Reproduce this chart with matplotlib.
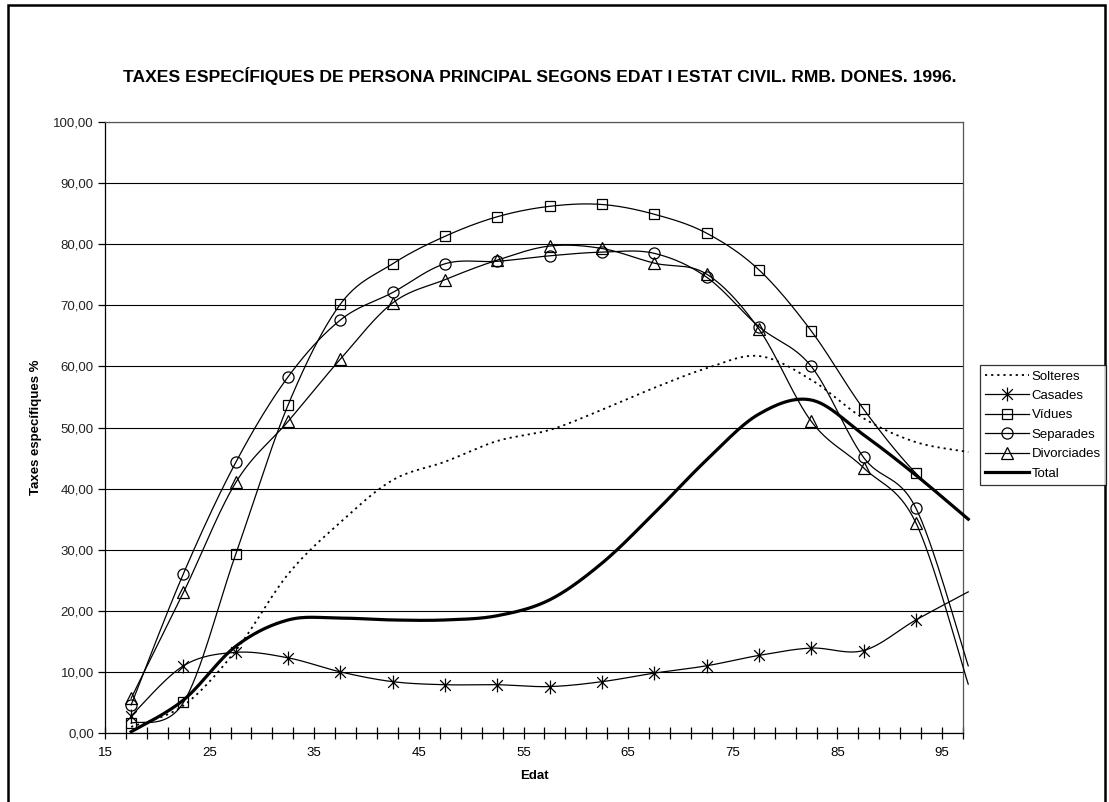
import numpy as np
import matplotlib
matplotlib.use("Agg")
import matplotlib.pyplot as plt
from matplotlib.path import Path
from matplotlib.patches import Rectangle
from matplotlib.lines import Line2D

plt.rcParams['font.family'] = ['Liberation Sans', 'DejaVu Sans']

# edat (centre of each 5-year group); the last point sits just past the axis
edat = [17.5, 22.5, 27.5, 32.5, 37.5, 42.5, 47.5, 52.5, 57.5,
        62.5, 67.5, 72.5, 77.5, 82.5, 87.5, 92.5, 97.5]

solteres = [1.0, 4.5, 13.5, 26.0, 34.5, 41.4, 44.4, 47.8, 49.6,
            52.9, 56.5, 59.7, 61.7, 57.8, 51.5, 47.6, 46.0]
casades = [2.8, 11.0, 13.2, 12.3, 10.0, 8.4, 7.9, 7.9, 7.6,
           8.4, 9.8, 11.0, 12.7, 13.9, 13.5, 18.5, 23.1]
vidues = [1.6, 5.0, 29.3, 53.7, 70.2, 76.8, 81.3, 84.5, 86.2,
          86.5, 84.9, 81.8, 75.8, 65.8, 53.0, 42.5, 35.0]
separades = [4.6, 26.1, 44.3, 58.3, 67.6, 72.1, 76.8, 77.2, 78.1,
             78.7, 78.5, 74.6, 66.5, 60.0, 45.1, 36.8, 11.0]
divorciades = [5.7, 23.0, 41.0, 51.0, 61.2, 70.4, 74.2, 77.4, 79.7,
               79.3, 76.9, 75.1, 66.1, 51.0, 43.4, 34.4, 8.0]
total = [0.2, 5.4, 14.2, 18.5, 18.8, 18.5, 18.5, 19.2, 21.8,
         27.8, 36.0, 44.7, 52.2, 54.5, 48.8, 42.2, 35.0]

x_ticks = [15, 25, 35, 45, 55, 65, 75, 85, 95]
y_ticks = [0, 10, 20, 30, 40, 50, 60, 70, 80, 90, 100]

fig = plt.figure(figsize=(11.09, 8.02), dpi=100)
ax = fig.add_axes([105 / 1109, 69 / 802, 858 / 1109, 611 / 802])
ax.set_xlim(15, 97)
ax.set_ylim(0, 100)

# excel-like star marker: an X with a vertical bar
star = Path([(-1, -1), (1, 1), (-1, 1), (1, -1), (0, -1.3), (0, 1.3)],
            [Path.MOVETO, Path.LINETO, Path.MOVETO, Path.LINETO, Path.MOVETO, Path.LINETO])


def smooth(xs, ys):
    # bezier smoothing done in screen space, like excel's smoothed lines
    pts = ax.transData.transform(np.column_stack([xs, ys]))
    n = len(pts)
    out = []
    t = np.linspace(0, 1, 30)[:, None]
    for i in range(n - 1):
        p0 = pts[max(i - 1, 0)]
        p1 = pts[i]
        p2 = pts[i + 1]
        p3 = pts[min(i + 2, n - 1)]
        c1 = p1 + (p2 - p0) / 6
        c2 = p2 - (p3 - p1) / 6
        seg = ((1 - t) ** 3) * p1 + 3 * ((1 - t) ** 2) * t * c1 + 3 * (1 - t) * t ** 2 * c2 + t ** 3 * p2
        out.append(seg)
    out = np.vstack(out)
    back = ax.transData.inverted().transform(out)
    return back[:, 0], back[:, 1]


series = [
    ("Solteres", solteres, dict(ls=(0, (1.2, 2.2)), lw=1.3), None, 0),
    ("Casades", casades, dict(ls='-', lw=0.9), star, 10),
    ("Vídues", vidues, dict(ls='-', lw=0.9), 's', 7.5),
    ("Separades", separades, dict(ls='-', lw=0.9), 'o', 8),
    ("Divorciades", divorciades, dict(ls='-', lw=0.9), '^', 8),
    ("Total", total, dict(ls='-', lw=2.3), None, 0),
]

handles = []
for name, vals, style, mk, ms in series:
    sx, sy = smooth(edat, vals)
    ax.plot(sx, sy, color='black', clip_on=False, zorder=3, **style)
    if mk is not None:
        inside = [(a, v) for a, v in zip(edat, vals) if a <= 97]
        ax.plot([a for a, v in inside], [v for a, v in inside], ls='none', marker=mk,
                ms=ms, mfc='none', mec='black', mew=0.9, zorder=4)
    handles.append(Line2D([], [], color='black', marker=mk, ms=ms, mfc='none',
                          mec='black', mew=0.9, label=name, **style))

ax.set_xticks(x_ticks)
ax.set_xticks(np.arange(15, 98, 2), minor=True)
ax.set_yticks(y_ticks)
ax.set_yticklabels([f"{v:.2f}".replace('.', ',') for v in y_ticks])
ax.tick_params(axis='x', which='both', direction='inout', length=8, width=0.9, labelsize=9.5, pad=6)
ax.tick_params(axis='y', direction='out', length=5, width=0.9, labelsize=9.5, pad=3)
for lbl in ax.get_yticklabels():
    lbl.set_color('#222222')
ax.yaxis.grid(True, color='black', lw=0.8)
ax.set_axisbelow(True)
for s in ax.spines.values():
    s.set_linewidth(0.9)
ax.spines['top'].set_color('#555555')
ax.spines['right'].set_color('#555555')

ax.set_xlabel("Edat", fontsize=9.5, fontweight='bold', labelpad=8)
ax.set_ylabel("Taxes específiques %", fontsize=9.5, fontweight='bold', labelpad=8)
fig.text(0.487, 0.905, "TAXES ESPECÍFIQUES DE PERSONA PRINCIPAL SEGONS EDAT I ESTAT CIVIL. RMB. DONES. 1996.",
         ha='center', va='center', fontsize=12.6, fontweight='bold')

leg = fig.legend(handles=handles, loc='upper left', bbox_to_anchor=(980 / 1109, 1 - 365 / 802),
                 frameon=True, fancybox=False, fontsize=9.5, handlelength=3.3,
                 handletextpad=0.2, borderpad=0.4, labelspacing=0.55, borderaxespad=0)
leg.get_frame().set_edgecolor('black')
leg.get_frame().set_linewidth(0.9)

fig.patches.append(Rectangle((8 / 1109, -0.05), 1097 / 1109, 1.05 - 5 / 802,
                             transform=fig.transFigure, fill=False, ec='black', lw=1.8))

fig.savefig("out.png", dpi=100)
